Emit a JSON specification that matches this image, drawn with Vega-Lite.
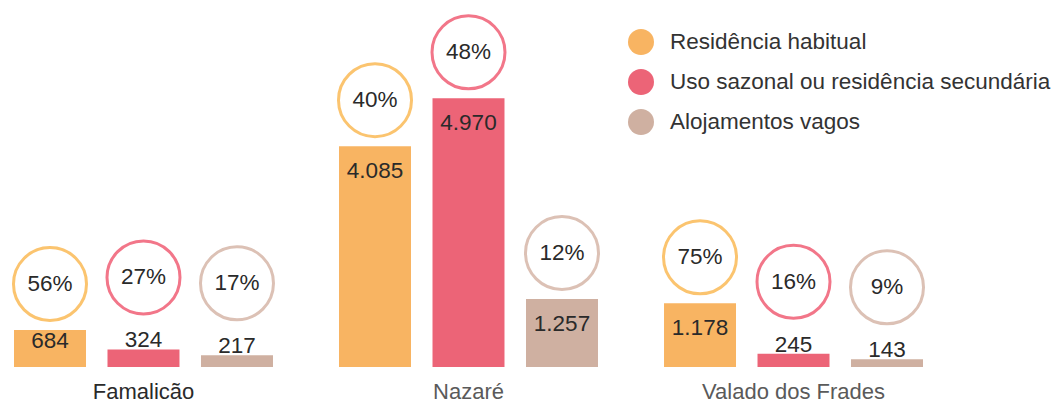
{
  "$schema": "https://vega.github.io/schema/vega-lite/v6.json",
  "autosize": "none",
  "padding": {"left": 0, "top": 0, "right": 120, "bottom": 45},
  "width": 937,
  "height": 367,
  "background": "white",
  "data": {
    "values": [
      {"place": "Famalicão", "cat": "Residência habitual", "value": 684, "pct": 0.56},
      {"place": "Famalicão", "cat": "Uso sazonal ou residência secundária", "value": 324, "pct": 0.27},
      {"place": "Famalicão", "cat": "Alojamentos vagos", "value": 217, "pct": 0.17},
      {"place": "Nazaré", "cat": "Residência habitual", "value": 4085, "pct": 0.40},
      {"place": "Nazaré", "cat": "Uso sazonal ou residência secundária", "value": 4970, "pct": 0.48},
      {"place": "Nazaré", "cat": "Alojamentos vagos", "value": 1257, "pct": 0.12},
      {"place": "Valado dos Frades", "cat": "Residência habitual", "value": 1178, "pct": 0.75},
      {"place": "Valado dos Frades", "cat": "Uso sazonal ou residência secundária", "value": 245, "pct": 0.16},
      {"place": "Valado dos Frades", "cat": "Alojamentos vagos", "value": 143, "pct": 0.09}
    ]
  },
  "encoding": {
    "x": {
      "field": "place", "type": "nominal", "sort": null,
      "scale": {"paddingInner": 0.137, "paddingOuter": 0.01},
      "axis": {
        "title": null, "domain": false, "ticks": false, "labelAngle": 0,
        "labelFont": "Liberation Sans", "labelFontSize": 22, "labelPadding": 14,
        "labelLimit": 400,
        "labelColor": {"condition": {"test": "datum.value == 'Famalicão'", "value": "#2a2a2a"}, "value": "#5a5a5a"}
      }
    },
    "xOffset": {
      "field": "cat", "type": "nominal",
      "sort": ["Residência habitual", "Uso sazonal ou residência secundária", "Alojamentos vagos"],
      "scale": {"paddingInner": 0.23, "paddingOuter": 0.115}
    },
    "y": {
      "field": "value", "type": "quantitative",
      "scale": {"domain": [0, 6790], "nice": false},
      "axis": null
    }
  },
  "layer": [
    {
      "mark": {"type": "bar"},
      "encoding": {
        "color": {
          "field": "cat", "type": "nominal",
          "scale": {
            "domain": ["Residência habitual", "Uso sazonal ou residência secundária", "Alojamentos vagos"],
            "range": ["#F8B462", "#EC6477", "#CFB0A1"]
          },
          "legend": {
            "title": null, "orient": "none", "legendX": 628, "legendY": 29,
            "symbolType": "circle", "symbolSize": 676, "symbolStrokeWidth": 0,
            "labelFont": "Liberation Sans", "labelFontSize": 22.5, "labelColor": "#333333",
            "labelOffset": 16, "rowPadding": 14, "labelLimit": 500
          }
        }
      }
    },
    {
      "mark": {
        "type": "text", "font": "Liberation Sans", "fontSize": 22.5, "color": "#2a2a2a",
        "baseline": "middle",
        "dy": {"expr": "datum.value < 500 ? -9 : (datum.value < 1000 ? 11 : 25)"}
      },
      "encoding": {
        "text": {"field": "value", "type": "quantitative", "format": ",d"}
      }
    },
    {
      "mark": {
        "type": "point", "shape": "circle", "size": 5330, "filled": false,
        "fill": "white", "fillOpacity": 1, "strokeWidth": 3, "opacity": 1,
        "yOffset": {"expr": "datum.value < 500 ? -72 : -46"}
      },
      "encoding": {
        "stroke": {
          "field": "cat", "type": "nominal",
          "scale": {
            "domain": ["Residência habitual", "Uso sazonal ou residência secundária", "Alojamentos vagos"],
            "range": ["#FBC46F", "#F27689", "#DCC1B5"]
          },
          "legend": null
        }
      }
    },
    {
      "mark": {
        "type": "text", "font": "Liberation Sans", "fontSize": 22.5, "color": "#2a2a2a",
        "baseline": "middle",
        "yOffset": {"expr": "datum.value < 500 ? -72 : -46"}
      },
      "encoding": {
        "text": {"field": "pct", "type": "quantitative", "format": ".0%"}
      }
    }
  ],
  "resolve": {"scale": {"color": "independent"}},
  "config": {
    "view": {"stroke": null},
    "locale": {"number": {"decimal": ",", "thousands": ".", "grouping": [3], "currency": ["€", ""]}}
  }
}
